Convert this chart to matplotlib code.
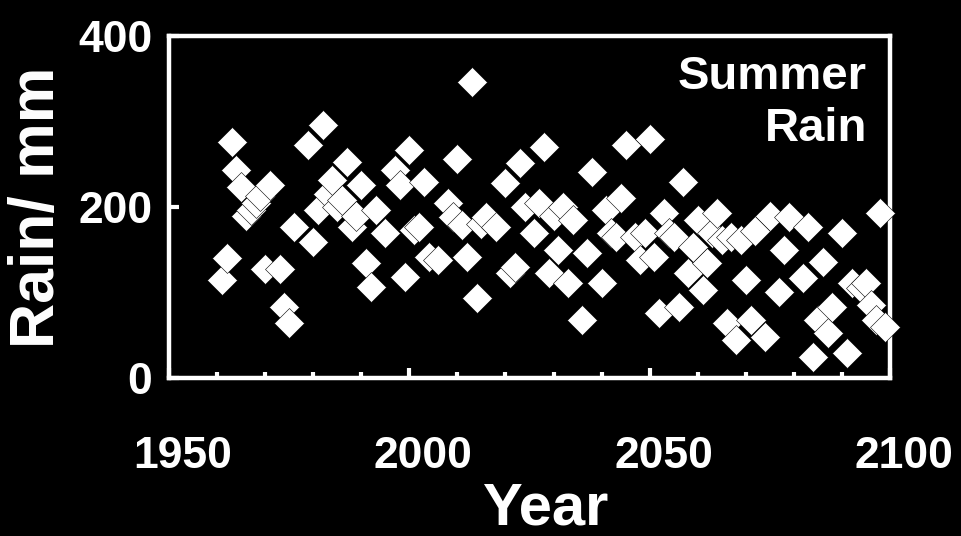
import matplotlib
matplotlib.use("Agg")
import matplotlib.pyplot as plt
import matplotlib.transforms as mtransforms
from matplotlib.ticker import MultipleLocator

plt.rcParams['font.family'] = ['Liberation Sans', 'DejaVu Sans']
plt.rcParams['font.weight'] = 'bold'

# Summer rainfall per year (mm)
years = [1961, 1962, 1963, 1964, 1965, 1966, 1967, 1968, 1969, 1970,
         1971, 1973, 1974, 1975, 1976, 1979, 1980, 1981, 1982, 1983,
         1984, 1985, 1986, 1987, 1988, 1989, 1990, 1991, 1992, 1993,
         1995, 1997, 1998, 1999, 2000, 2001, 2002, 2003, 2004, 2006,
         2008, 2009, 2010, 2011, 2012, 2013, 2014, 2015, 2016, 2018,
         2020, 2021, 2022, 2023, 2024, 2026, 2027, 2028, 2029, 2030,
         2031, 2032, 2033, 2034, 2036, 2037, 2038, 2040, 2041, 2042,
         2043, 2044, 2045, 2047, 2048, 2049, 2050, 2051, 2052, 2053,
         2054, 2055, 2056, 2057, 2058, 2059, 2060, 2061, 2062, 2063,
         2064, 2065, 2066, 2067, 2068, 2069, 2070, 2071, 2072, 2074,
         2075, 2077, 2078, 2079, 2082, 2083, 2084, 2085, 2086, 2087,
         2088, 2090, 2091, 2092, 2094, 2095, 2096, 2097, 2098, 2099]
rain = [115, 140, 276, 243, 223, 189, 197, 205, 213, 127,
        226, 127, 83, 64, 177, 273, 159, 196, 296, 215,
        232, 200, 208, 253, 177, 190, 226, 134, 107, 196,
        170, 243, 226, 118, 267, 173, 177, 229, 141, 138,
        205, 188, 256, 179, 141, 346, 94, 180, 188, 177,
        228, 123, 130, 251, 200, 170, 205, 270, 123, 190,
        150, 200, 111, 185, 68, 146, 241, 111, 196, 170,
        165, 210, 272, 165, 138, 170, 280, 141, 76, 193,
        170, 165, 83, 229, 123, 153, 185, 103, 134, 170,
        193, 161, 64, 165, 44, 161, 115, 68, 172, 48,
        190, 100, 150, 188, 117, 177, 25, 68, 136, 53,
        83, 170, 29, 111, 105, 111, 85, 68, 193, 60]

x_tick_labels = ['1950', '2000', '2050', '2100']
y_ticks = [0, 200, 400]

fig = plt.figure(figsize=(9.61, 5.36), dpi=100, facecolor='black')
ax = fig.add_axes([0.1759, 0.2948, 0.7502, 0.638], facecolor='black')

ax.plot(years, rain, linestyle='none', marker='D', markersize=15,
        markerfacecolor='white', markeredgecolor='black',
        markeredgewidth=0.4, clip_on=False, zorder=3)

ax.set_xlim(1950, 2100)
ax.set_ylim(0, 400)

for side in ['left', 'right', 'top', 'bottom']:
    ax.spines[side].set_color('white')
    ax.spines[side].set_linewidth(3.2)

ax.set_xticks([1950, 2000, 2050, 2100])
ax.set_xticklabels(x_tick_labels)
ax.xaxis.set_minor_locator(MultipleLocator(10))
ax.set_yticks(y_ticks)
ax.set_yticklabels([str(v) for v in y_ticks])

ax.tick_params(axis='x', which='major', direction='in', length=7.5, width=3,
               color='white', labelcolor='white', labelsize=32, pad=42)
ax.tick_params(axis='x', which='minor', direction='in', length=4.5, width=3,
               color='white')
ax.tick_params(axis='y', which='major', direction='in', length=7, width=3,
               color='white', labelcolor='white', labelsize=32, pad=12)

shift = mtransforms.ScaledTranslation(0.14, 0, fig.dpi_scale_trans)
for lbl in ax.get_xticklabels():
    lbl.set_transform(lbl.get_transform() + shift)
    lbl.set_fontweight('bold')
for lbl in ax.get_yticklabels():
    lbl.set_fontweight('bold')

ax.set_xlabel('Year', color='white', fontsize=43, fontweight='bold', labelpad=3)
ax.xaxis.label.set_x(0.522)
ax.set_ylabel('Rain/ mm', color='white', fontsize=45, fontweight='bold', labelpad=8)

ax.text(0.968, 0.945, 'Summer\nRain', transform=ax.transAxes, ha='right', va='top',
        color='white', fontsize=34, fontweight='bold', linespacing=1.25)

fig.savefig('out.png', dpi=100, facecolor='black')
